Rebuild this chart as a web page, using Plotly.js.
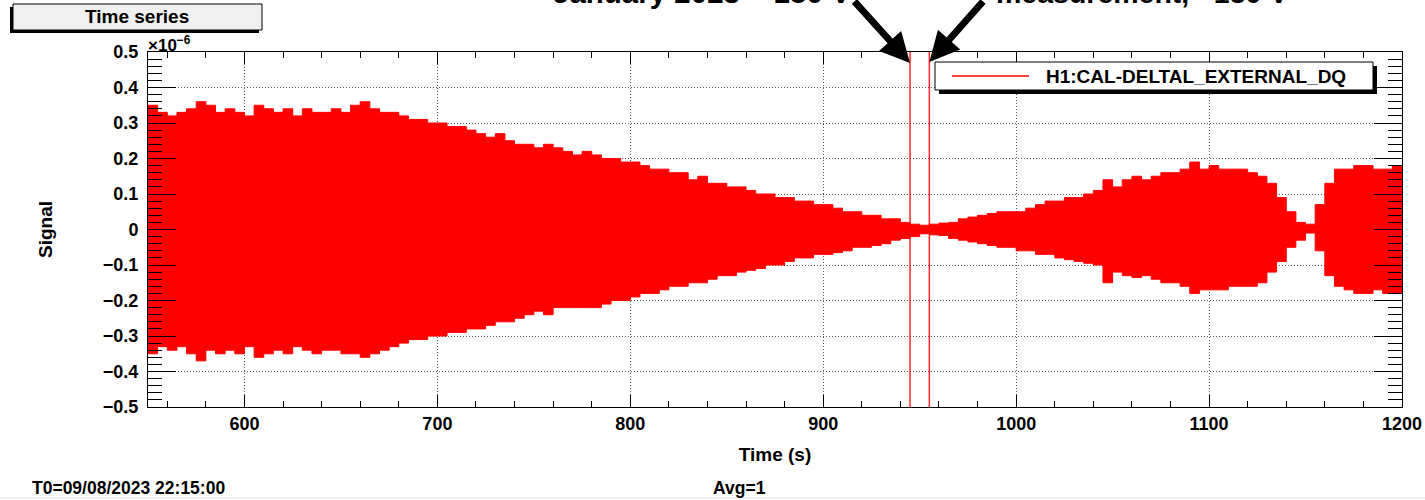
<!DOCTYPE html>
<html>
<head>
<meta charset="utf-8">
<script src="https://cdn.plot.ly/plotly-3.0.1.min.js"></script>
<style>
html,body{margin:0;padding:0;background:#fff;}
#chart{width:1425px;height:500px;}
</style>
</head>
<body>
<div id="chart"></div>
<script>
// ---- data (signal envelope, units of 1e-6) ----
const timeS = [550,555,560,565,570,575,580,585,590,595,600,605,610,615,620,625,630,635,640,645,650,655,660,665,670,675,680,685,690,695,700,705,710,715,720,725,730,735,740,745,750,755,760,765,770,775,780,785,790,795,800,805,810,815,820,825,830,835,840,845,850,855,860,865,870,875,880,885,890,895,900,905,910,915,920,925,930,935,940,945,950,955,960,965,970,975,980,985,990,995,1000,1005,1010,1015,1020,1025,1030,1035,1040,1045,1050,1055,1060,1065,1070,1075,1080,1085,1090,1095,1100,1105,1110,1115,1120,1125,1130,1135,1140,1145,1150,1155,1160,1165,1170,1175,1180,1185,1190,1195,1200];
const signalUpper = [0.35,0.33,0.32,0.33,0.34,0.36,0.35,0.33,0.34,0.33,0.32,0.35,0.34,0.33,0.34,0.32,0.34,0.33,0.33,0.34,0.33,0.35,0.36,0.34,0.33,0.33,0.32,0.31,0.31,0.30,0.30,0.29,0.29,0.28,0.27,0.26,0.27,0.25,0.24,0.24,0.23,0.24,0.23,0.22,0.21,0.22,0.21,0.20,0.20,0.19,0.19,0.18,0.17,0.17,0.16,0.16,0.14,0.15,0.13,0.13,0.12,0.12,0.11,0.10,0.10,0.09,0.09,0.08,0.08,0.07,0.07,0.06,0.05,0.05,0.04,0.04,0.03,0.03,0.02,0.015,0.012,0.015,0.018,0.02,0.03,0.035,0.04,0.045,0.05,0.05,0.05,0.06,0.07,0.08,0.08,0.09,0.09,0.10,0.11,0.14,0.12,0.14,0.15,0.14,0.15,0.16,0.16,0.17,0.19,0.17,0.18,0.17,0.17,0.17,0.16,0.15,0.13,0.09,0.05,0.02,0.015,0.07,0.13,0.17,0.17,0.18,0.18,0.17,0.17,0.18,0.17];
const signalLower = [-0.35,-0.33,-0.34,-0.33,-0.35,-0.37,-0.34,-0.35,-0.34,-0.35,-0.33,-0.36,-0.35,-0.34,-0.35,-0.33,-0.34,-0.35,-0.34,-0.34,-0.35,-0.35,-0.36,-0.35,-0.34,-0.33,-0.32,-0.31,-0.31,-0.30,-0.30,-0.29,-0.29,-0.28,-0.28,-0.27,-0.26,-0.26,-0.25,-0.24,-0.23,-0.24,-0.22,-0.22,-0.22,-0.22,-0.22,-0.21,-0.20,-0.20,-0.19,-0.18,-0.18,-0.17,-0.16,-0.16,-0.15,-0.15,-0.14,-0.13,-0.13,-0.12,-0.115,-0.11,-0.10,-0.10,-0.09,-0.08,-0.08,-0.07,-0.07,-0.065,-0.06,-0.05,-0.05,-0.045,-0.04,-0.03,-0.025,-0.02,-0.012,-0.015,-0.017,-0.025,-0.03,-0.035,-0.04,-0.045,-0.05,-0.05,-0.06,-0.06,-0.07,-0.07,-0.08,-0.085,-0.09,-0.095,-0.10,-0.15,-0.12,-0.13,-0.135,-0.13,-0.14,-0.15,-0.15,-0.16,-0.18,-0.17,-0.17,-0.17,-0.16,-0.16,-0.16,-0.15,-0.12,-0.09,-0.05,-0.03,-0.01,-0.06,-0.13,-0.16,-0.17,-0.18,-0.18,-0.17,-0.18,-0.18,-0.18];
const markerTimes = [945, 955];
const channelName = "H1:CAL-DELTAL_EXTERNAL_DQ";
const chartTitle = "Time series";
const xTitle = "Time (s)";
const yTitle = "Signal";
const noteLeft = "January 2023 ~ 180 V";
const noteRight = "measurement, ~180 V";
const footerT0 = "T0=09/08/2023 22:15:00";
const footerAvg = "Avg=1";

// ---- layout helpers (pixel -> paper) ----
const W = 1425, H = 500;
const M = {l:148, r:23, t:52, b:93};
const PW = W - M.l - M.r, PH = H - M.t - M.b;
const px = v => (v - M.l) / PW;
const py = v => (H - M.b - v) / PH;

const FONT = "Liberation Sans, Arial, sans-serif";
const RED = "#ff0000";

const traces = [
  {x: timeS, y: signalLower, type: "scatter", mode: "lines",
   line: {color: RED, width: 1, shape: "hv"}, showlegend: false, hoverinfo: "skip"},
  {x: timeS, y: signalUpper, type: "scatter", mode: "lines", fill: "tonexty",
   fillcolor: RED, line: {color: RED, width: 1, shape: "hv"}, showlegend: false, name: channelName}
];

const shapes = [];
// title box with shadow
shapes.push({type:"rect", xref:"paper", yref:"paper", x0:px(10), x1:px(259), y0:py(33), y1:py(7), fillcolor:"#000", line:{width:0}, layer:"above"});
shapes.push({type:"rect", xref:"paper", yref:"paper", x0:px(13), x1:px(262), y0:py(30), y1:py(4), fillcolor:"#f0f0f0", line:{color:"#000", width:1}, layer:"above"});
// marker lines
markerTimes.forEach(t => shapes.push({type:"line", xref:"x", yref:"paper", x0:t, x1:t, y0:0, y1:1, line:{color:"rgba(255,0,0,0.85)", width:1.5}, layer:"above"}));
// legend box with shadow
shapes.push({type:"rect", xref:"paper", yref:"paper", x0:px(939), x1:px(1377), y0:py(94), y1:py(66), fillcolor:"#000", line:{width:0}, layer:"above"});
shapes.push({type:"rect", xref:"paper", yref:"paper", x0:px(935), x1:px(1373), y0:py(90), y1:py(62), fillcolor:"#fff", line:{color:"#000", width:1}, layer:"above"});
shapes.push({type:"line", xref:"paper", yref:"paper", x0:px(952), x1:px(1029), y0:py(76), y1:py(76), line:{color:RED, width:1.5}, layer:"above"});
// bottom status line
shapes.push({type:"line", xref:"paper", yref:"paper", x0:px(0), x1:px(W), y0:py(498), y1:py(498), line:{color:"#e4e4e4", width:1}, layer:"above"});

const txt = (x, y, text, size, xa, ya) => ({xref:"paper", yref:"paper", x:px(x), y:py(y), xanchor:xa, yanchor:ya, text:text, showarrow:false, font:{family:FONT, size:size, weight:"bold", color:"#000"}});

const annotations = [
  txt(137, 17, chartTitle, 19, "center", "middle"),
  txt(1044, 76, channelName, 19, "left", "middle"),
  txt(146, 44, "×10<sup>−6</sup>", 17, "left", "middle"),
  txt(30, 488, footerT0, 17.5, "left", "middle"),
  txt(739, 488, footerAvg, 17.5, "center", "middle"),
  txt(702, 11, noteLeft, 29.5, "center", "bottom"),
  txt(1142, 11, noteRight, 28.5, "center", "bottom"),
  {xref:"x", yref:"paper", x:markerTimes[0], y:py(63), ax:-57, ay:-68, text:"", showarrow:true, arrowhead:2, arrowsize:0.85, arrowwidth:7, arrowcolor:"#000"},
  {xref:"x", yref:"paper", x:markerTimes[1], y:py(62), ax:55, ay:-67, text:"", showarrow:true, arrowhead:2, arrowsize:0.85, arrowwidth:7, arrowcolor:"#000"}
];

const layout = {
  width: W, height: H,
  margin: M,
  paper_bgcolor: "#fff", plot_bgcolor: "#fff",
  font: {family: FONT, color: "#000", weight: "bold"},
  showlegend: false,
  xaxis: {
    range: [550, 1200], tick0: 0, dtick: 100,
    ticks: "inside", ticklen: 12, tickwidth: 1, tickcolor: "#000",
    showline: true, linecolor: "#000", linewidth: 1, mirror: "ticks",
    showgrid: true, gridcolor: "#555", griddash: "1px,2px", gridwidth: 1,
    zeroline: false,
    tickfont: {family: FONT, size: 18, weight: "bold", color: "#000"},
    minor: {dtick: 20, ticks: "inside", ticklen: 6, tickcolor: "#000", showgrid: false},
    title: {text: xTitle, font: {family: FONT, size: 19, weight: "bold", color: "#000"}, standoff: 15}
  },
  yaxis: {
    range: [-0.5, 0.5], dtick: 0.1, tick0: 0,
    ticks: "inside", ticklen: 28, tickwidth: 1, tickcolor: "#000",
    showline: true, linecolor: "#000", linewidth: 1, mirror: "ticks",
    showgrid: true, gridcolor: "#555", griddash: "1px,2px", gridwidth: 1,
    zeroline: false, ticklabelstandoff: 5,
    tickfont: {family: FONT, size: 18, weight: "bold", color: "#000"},
    minor: {dtick: 0.02, ticks: "inside", ticklen: 14, tickcolor: "#000", showgrid: false},
    title: {text: yTitle, font: {family: FONT, size: 19, weight: "bold", color: "#000"}, standoff: 45}
  },
  shapes: shapes,
  annotations: annotations
};

Plotly.newPlot("chart", traces, layout, {staticPlot: true, displayModeBar: false});
</script>
</body>
</html>
